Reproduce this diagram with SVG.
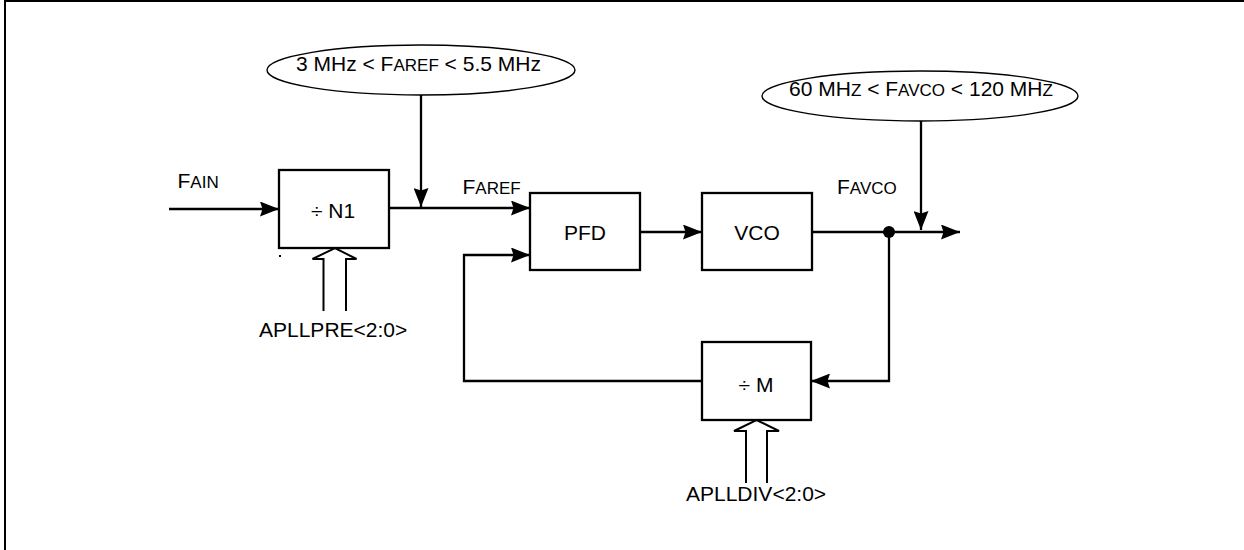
<svg xmlns="http://www.w3.org/2000/svg" width="1244" height="550" viewBox="0 0 1244 550">
<style>
.box{fill:#fff;stroke:#000;stroke-width:2.3}
.ell{fill:#fff;stroke:#000;stroke-width:1.4}
.ln{fill:none;stroke:#000;stroke-width:2.3}
.hol{fill:#fff;stroke:#000;stroke-width:2}
text{font-family:"Liberation Sans",Arial,sans-serif;font-size:21px;fill:#000}
.sc{font-size:17px}
.mid{text-anchor:middle}
</style>
<defs>
<marker id="ah" viewBox="0 0 19 15" refX="19" refY="7.5" markerWidth="19" markerHeight="15" markerUnits="userSpaceOnUse" orient="auto">
<path d="M0,0 L19,7.5 L0,15 L2.5,7.5 Z" fill="#000"/>
</marker>
</defs>
<rect width="1244" height="550" fill="#fff"/>
<g id="frame">
<line x1="4" y1="1" x2="1244" y2="1" stroke="#000" stroke-width="2"/>
<line x1="5" y1="0" x2="5" y2="550" stroke="#000" stroke-width="2"/>
</g>
<g id="connectors">
<line class="ln" x1="169" y1="209" x2="279" y2="209" marker-end="url(#ah)"/>
<line class="ln" x1="389" y1="208" x2="530" y2="208" marker-end="url(#ah)"/>
<line class="ln" x1="421" y1="95" x2="421" y2="207" marker-end="url(#ah)"/>
<line class="ln" x1="640" y1="232" x2="702" y2="232" marker-end="url(#ah)"/>
<line class="ln" x1="812" y1="232" x2="960" y2="232" marker-end="url(#ah)"/>
<line class="ln" x1="921" y1="121" x2="921" y2="230" marker-end="url(#ah)"/>
<polyline class="ln" points="889,232 889,381 811,381" marker-end="url(#ah)"/>
<polyline class="ln" points="702,381 464,381 464,255 530,255" marker-end="url(#ah)"/>
<circle cx="889" cy="232" r="6" fill="#000"/>
<polyline class="hol" points="323.5,311 323.5,259 312.5,259 335,248 356.5,259 346,259 346,311"/>
<polyline class="hol" points="746,483 746,431 734,431 756.5,420 779,431 767,431 767,483"/>
<rect x="279" y="255" width="2" height="2" fill="#000"/>
</g>
<g id="ellipse-faref">
<ellipse class="ell" cx="421" cy="70" rx="154" ry="25"/>
<text x="296" y="71">3 MHz &lt; F<tspan class="sc">AREF</tspan> &lt; 5.5 MHz</text>
</g>
<g id="ellipse-favco">
<ellipse class="ell" cx="920" cy="96" rx="158" ry="25"/>
<text x="921" y="96" class="mid">60 MH<tspan class="sc">Z</tspan> &lt; F<tspan class="sc">AVCO</tspan> &lt; 120 MH<tspan class="sc">Z</tspan></text>
</g>
<g id="label-fain"><text x="177.5" y="188">F<tspan class="sc">AIN</tspan></text></g>
<g id="label-faref"><text x="462.5" y="194">F<tspan class="sc">AREF</tspan></text></g>
<g id="label-favco"><text x="837" y="194">F<tspan class="sc">AVCO</tspan></text></g>
<g id="n1">
<rect class="box" x="279" y="170" width="110" height="78"/>
<text x="333" y="218" class="mid">÷ N1</text>
</g>
<g id="pfd">
<rect class="box" x="530" y="193" width="110" height="77"/>
<text x="585" y="240" class="mid">PFD</text>
</g>
<g id="vco">
<rect class="box" x="702" y="193" width="110" height="77"/>
<text x="757" y="240" class="mid">VCO</text>
</g>
<g id="m">
<rect class="box" x="702" y="342" width="109" height="78"/>
<text x="756" y="392" class="mid">÷ M</text>
</g>
<g id="label-apllpre"><text x="259" y="337">APLLPRE&lt;2:0&gt;</text></g>
<g id="label-aplldiv"><text x="686" y="501">APLLDIV&lt;2:0&gt;</text></g>
</svg>
